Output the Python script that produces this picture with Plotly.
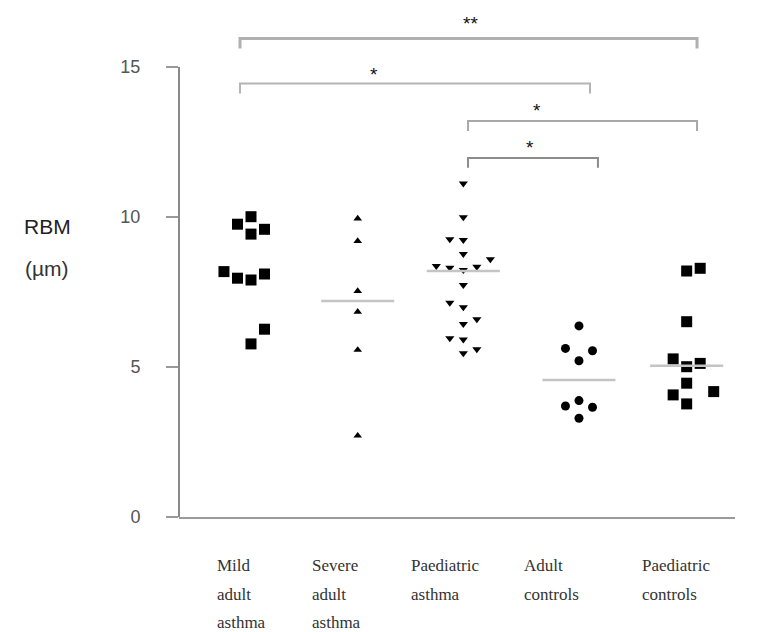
import plotly.graph_objects as go

# ---------------- data ----------------
categories = ["Mild adult asthma", "Severe adult asthma", "Paediatric asthma",
              "Adult controls", "Paediatric controls"]
label_lines = [["Mild", "adult", "asthma"],
               ["Severe", "adult", "asthma"],
               ["Paediatric", "asthma"],
               ["Adult", "controls"],
               ["Paediatric", "controls"]]

mild_vals = [10.01, 9.76, 9.43, 9.59, 8.18, 7.96, 7.90, 8.10, 6.26, 5.77]
severe_vals = [9.95, 9.20, 7.53, 6.84, 5.57, 2.71]
paed_asthma_vals = [11.12, 9.99, 9.26, 9.23, 8.77, 8.59, 8.37, 8.31, 8.34, 8.23,
                    7.73, 7.14, 6.99, 6.59, 6.43, 5.96, 5.92, 5.59, 5.46]
adult_ctrl_vals = [6.37, 5.62, 5.54, 5.21, 3.70, 3.88, 3.66, 3.29]
paed_ctrl_vals = [8.20, 8.29, 6.51, 5.27, 5.01, 5.12, 4.46, 4.07, 4.18, 3.77]
values = [mild_vals, severe_vals, paed_asthma_vals, adult_ctrl_vals, paed_ctrl_vals]

# median/mean lines (None = not drawn)
medians = [None, 7.2, 8.2, 4.57, 5.04]

# significance brackets: (group a, group b, label)
brackets = [(0, 4, "**"), (0, 3, "*"), (2, 4, "*"), (2, 3, "*")]

y_ticks = [0, 5, 10, 15]

# ---------------- layout helpers (positions / styles) ----------------
Y_MAX = 16.7
group_pos = [0.0, 0.979, 1.948, 3.009, 3.997]
col = 0.124  # horizontal step of the dot columns
offsets = [
    [0, -1, 0, 1, -2, -1, 0, 1, 1, 0],
    [0, 0, 0, 0, 0, 0],
    [0, 0, -1, 0, 0, 2, -2, -1, 1, 0, 0, -1, 0, 1, 0, -1, 0, 1, 0],
    [0, -1, 1, 0, -1, 0, 1, 0],
    [0, 1, 0, -1, 0, 1, 0, -1, 2, 0],
]
symbols = ["square", "triangle-up", "triangle-down", "circle", "square"]
sizes = [11, 7.5, 8, 9, 11]
label_dx = [-0.33, -0.44, -0.50, -0.52, -0.43]
bracket_geom = [  # x0, x1, y level, label x, label y, line width, colour
    (-0.101, 4.092, 15.95, 2.01, 16.45, 3, "#b0b0b0"),
    (-0.101, 3.110, 14.45, 1.128, 14.75, 2, "#b4b4b4"),
    (1.991, 4.092, 13.20, 2.624, 13.55, 2, "#a8a8a8"),
    (1.991, 3.183, 11.97, 2.56, 12.33, 2, "#8c8c8c"),
]
half_w = 0.335

fig = go.Figure()

for i, vals in enumerate(values):
    xs = [group_pos[i] + o * col for o in offsets[i]]
    fig.add_trace(go.Scatter(
        x=xs, y=vals, mode="markers",
        marker=dict(symbol=symbols[i], size=sizes[i], color="#000000",
                    line=dict(width=0)),
        name=categories[i], showlegend=False, hoverinfo="y"))
    if medians[i] is not None:
        fig.add_trace(go.Scatter(
            x=[group_pos[i] - half_w, group_pos[i] + half_w],
            y=[medians[i], medians[i]], mode="lines",
            line=dict(color="#c4c4c4", width=2.5),
            showlegend=False, hoverinfo="skip"))

shapes = []
annotations = []
tick_drop = 0.33
for (a, b, lab), (x0, x1, yl, lx, ly, lw, colr) in zip(brackets, bracket_geom):
    fig.add_trace(go.Scatter(
        x=[x0, x0, x1, x1], y=[yl - tick_drop, yl, yl, yl - tick_drop],
        mode="lines", line=dict(color=colr, width=lw),
        showlegend=False, hoverinfo="skip", cliponaxis=False))
    annotations.append(dict(x=lx, y=ly, xref="x", yref="y", text=lab,
                            showarrow=False, font=dict(size=19, color="#111",
                                                       family="Liberation Sans")))

# y axis line from 0 to 15 only
shapes.append(dict(type="line", xref="paper", yref="y", x0=0, x1=0, y0=0, y1=15,
                   line=dict(color="#8a8a8a", width=2)))

# category labels (paper y, below the plot)
row_y = [-1.6, -2.57, -3.53]
for i, lines in enumerate(label_lines):
    for j, t in enumerate(lines):
        annotations.append(dict(x=group_pos[i] + label_dx[i], y=row_y[j] / Y_MAX,
                                xref="x", yref="paper", text=t, showarrow=False,
                                xanchor="left", yanchor="middle",
                                font=dict(size=17, color="#333",
                                          family="Liberation Serif")))

# y title
annotations.append(dict(x=-0.283, y=9.67 / Y_MAX, xref="paper", yref="paper",
                        text="RBM", showarrow=False, xanchor="left",
                        font=dict(size=21, color="#222", family="Liberation Sans")))
annotations.append(dict(x=-0.281, y=8.3 / Y_MAX, xref="paper", yref="paper",
                        text="(µm)", showarrow=False, xanchor="left",
                        font=dict(size=21, color="#333", family="Liberation Sans")))

fig.update_layout(
    width=778, height=632,
    margin=dict(l=179, r=43, t=16, b=115),
    paper_bgcolor="white", plot_bgcolor="white",
    shapes=shapes, annotations=annotations,
    xaxis=dict(range=[-0.6606, 4.4404], showgrid=False, zeroline=False,
               showticklabels=False, ticks="", showline=True,
               linecolor="#9a9a9a", linewidth=2, fixedrange=True),
    yaxis=dict(range=[0, Y_MAX], showgrid=False, zeroline=False,
               tickvals=y_ticks, ticktext=[str(t) for t in y_ticks],
               ticks="outside", ticklen=12, tickwidth=2, tickcolor="#999",
               ticklabelstandoff=22, showline=False,
               tickfont=dict(size=18, color="#555", family="Liberation Sans"),
               fixedrange=True),
)

fig.write_html("out.html")
